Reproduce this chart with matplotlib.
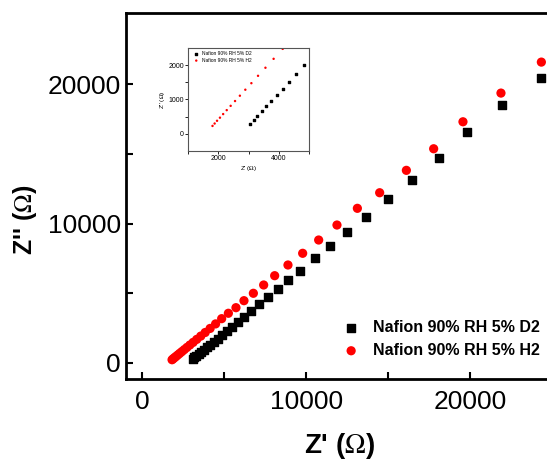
import matplotlib.pyplot as plt

plt.rcParams['font.family'] = ['Liberation Sans', 'DejaVu Sans']
plt.rcParams['mathtext.fontset'] = 'stix'

# Nyquist data (Z', Z'' in ohm)
d2_zre = [3064, 3174, 3296, 3431, 3581, 3746, 3926, 4126, 4346, 4586, 4851, 5141,
          5461, 5811, 6195, 6646, 7110, 7659, 8250, 8902, 9634, 10506, 11421,
          12457, 13659, 14957, 16421, 18067, 19793, 21927, 24329]
d2_zim = [300, 410, 530, 660, 800, 955, 1125, 1310, 1515, 1745, 2000, 2270,
          2580, 2939, 3319, 3749, 4208, 4710, 5283, 5928, 6616, 7505, 8387,
          9369, 10444, 11756, 13140, 14674, 16559, 18473, 20430]

h2_zre = [1810, 1880, 1960, 2056, 2162, 2280, 2410, 2555, 2715, 2895, 3095, 3315,
          3560, 3830, 4130, 4465, 4835, 5244, 5707, 6195, 6768, 7396, 8067,
          8878, 9774, 10750, 11866, 13110, 14470, 16098, 17762, 19549, 21866, 24329]
h2_zim = [230, 300, 380, 470, 575, 690, 815, 955, 1110, 1285, 1475, 1690,
          1925, 2185, 2475, 2800, 3176, 3563, 3964, 4466, 4996, 5591, 6258,
          7025, 7864, 8817, 9892, 11090, 12208, 13814, 15362, 17297, 19355, 21577]

lab_d2 = "Nafion 90% RH 5% D2"
lab_h2 = "Nafion 90% RH 5% H2"

fig = plt.figure(figsize=(5.47, 4.62), dpi=100)
ax = fig.add_axes([0.2303, 0.1797, 0.7795, 0.7922])
ax.scatter(d2_zre, d2_zim, marker='s', s=34, color='black', label=lab_d2, zorder=3)
ax.scatter(h2_zre, h2_zim, marker='o', s=44, color='red', edgecolors='none', label=lab_h2, zorder=3)
ax.set_xlim(-1000, 25000)
ax.set_ylim(-1150, 25100)
ax.set_xticks([0, 10000, 20000])
ax.set_yticks([0, 10000, 20000])
ax.set_xticks([5000, 15000], minor=True)
ax.set_yticks([5000, 15000], minor=True)
ax.tick_params(which='both', direction='in', length=5, width=1.5, labelsize=19)
ax.tick_params(axis='x', pad=8)
for sp in ax.spines.values():
    sp.set_linewidth(2)
ax.set_xlabel(r"Z' ($\mathrm{\Omega}$)", fontsize=20, fontweight='bold', labelpad=12)
ax.set_ylabel(r"Z'' ($\mathrm{\Omega}$)", fontsize=18, fontweight='bold')
ax.yaxis.set_label_coords(-0.203, 0.434)
ax.legend(loc='lower right', bbox_to_anchor=(0.985, 0.04), frameon=False,
          prop={'weight': 'bold', 'size': 11.5}, handletextpad=0.35, labelspacing=0.5,
          borderaxespad=0)

# inset
ins = fig.add_axes([0.3437, 0.6732, 0.2212, 0.2229])
ins.scatter(d2_zre, d2_zim, marker='s', s=3, color='black', label=lab_d2)
ins.scatter(h2_zre, h2_zim, marker='o', s=3, color='red', edgecolors='none', label=lab_h2)
ins.set_xlim(1000, 5000)
ins.set_ylim(-500, 2500)
ins.set_xticks([2000, 4000])
ins.set_yticks([0, 1000, 2000])
ins.set_xticks([1000, 3000, 5000], minor=True)
ins.set_yticks([500, 1500], minor=True)
ins.tick_params(which='both', direction='out', length=2, width=0.6, labelsize=5, pad=1)
for sp in ins.spines.values():
    sp.set_linewidth(0.8)
    sp.set_color('#555555')
ins.set_xlabel(r"Z' ($\mathrm{\Omega}$)", fontsize=4.5, labelpad=1)
ins.set_ylabel(r"Z'' ($\mathrm{\Omega}$)", fontsize=4.5, labelpad=1)
ins.legend(loc='upper left', frameon=False, prop={'size': 3.5}, handletextpad=0.2,
           labelspacing=0.3, borderaxespad=0.3, markerscale=1)

fig.savefig('out.png', dpi=100)
